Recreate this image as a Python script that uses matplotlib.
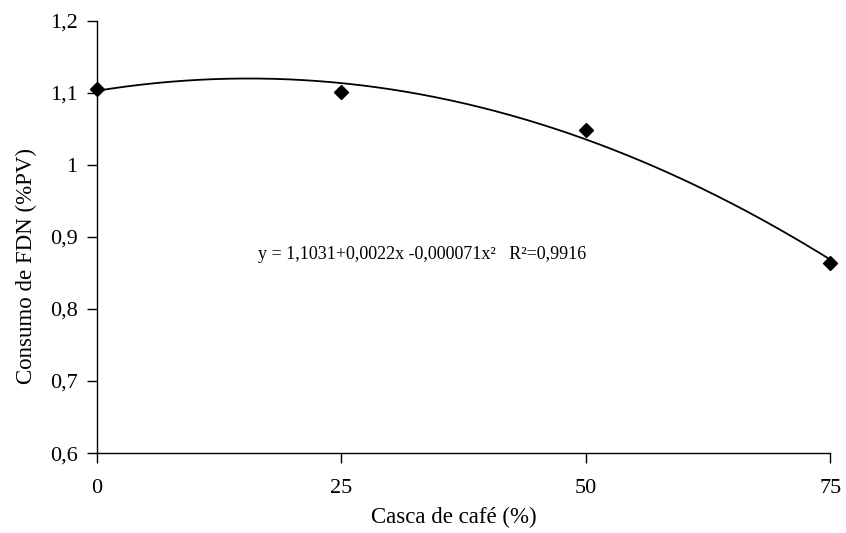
import numpy as np
import matplotlib.pyplot as plt

plt.rcParams['font.family'] = ['Liberation Serif', 'DejaVu Serif']

# observed means
casca = [0, 25, 50, 75]
fdn = [1.105, 1.101, 1.049, 0.864]

# quadratic trendline coefficients (from the equation on the chart)
coef = [1.1031, 0.0022, -0.000071]

xticks = [0, 25, 50, 75]
yticks = [0.6, 0.7, 0.8, 0.9, 1.0, 1.1, 1.2]

fig = plt.figure(figsize=(8.46, 5.33), dpi=100)
ax = fig.add_axes([0.1147, 0.150, 0.8666, 0.8106])

xs = np.linspace(0, 75, 200)
ys = coef[0] + coef[1] * xs + coef[2] * xs**2
ax.plot(xs, ys, color='black', linewidth=1.3, clip_on=False)
ax.plot(casca, fdn, linestyle='none', marker='D', markersize=7,
        color='black', clip_on=False, zorder=3)

ax.text(16.5, 0.876, 'y = 1,1031+0,0022x -0,000071x²   R²=0,9916',
        fontsize=13, ha='left', va='center')

ax.set_xlim(0, 75)
ax.set_ylim(0.6, 1.2)
ax.set_xticks(xticks)
ax.set_xticklabels([str(v) for v in xticks])
ax.set_yticks(yticks)
ax.set_yticklabels([('%g' % v).replace('.', ',') for v in yticks])

ax.spines['top'].set_visible(False)
ax.spines['right'].set_visible(False)
ax.spines['left'].set_linewidth(1)
ax.spines['bottom'].set_linewidth(1)
ax.tick_params(axis='both', direction='out', length=7, width=1, labelsize=16)
ax.tick_params(axis='x', pad=12)
ax.tick_params(axis='y', pad=7)

ax.set_xlabel('Casca de café (%)', fontsize=16.5)
ax.set_ylabel('Consumo de FDN (%PV)', fontsize=16.5)
# label placement as in the original (slightly off-centre)
ax.xaxis.set_label_coords(0.486, -0.125)
ax.yaxis.set_label_coords(-0.082, 0.433)

fig.savefig('out.png', dpi=100)
